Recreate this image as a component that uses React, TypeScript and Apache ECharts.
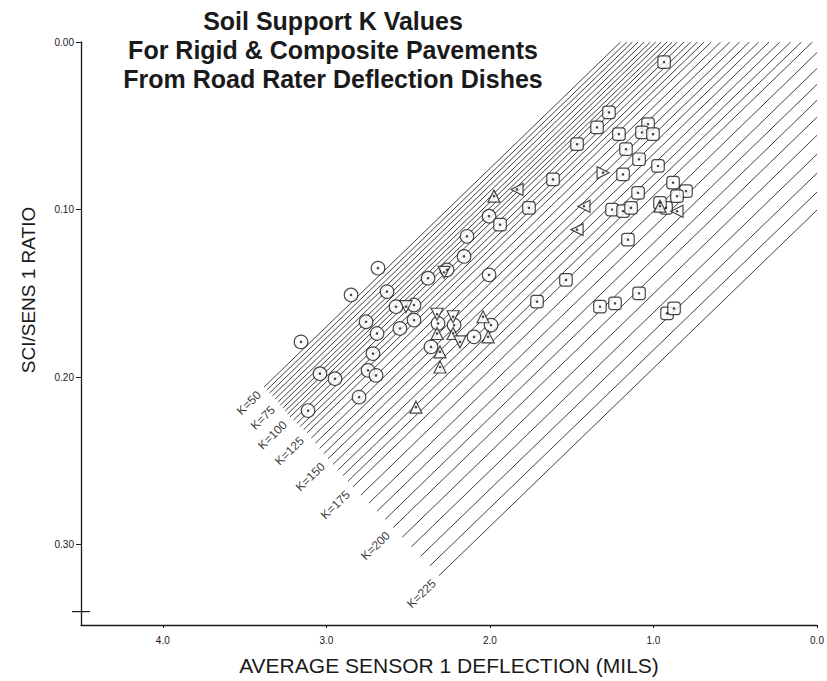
import { useEffect, useRef } from "react";
import * as echarts from "echarts";

// K-value lines (deflection in mils, SCI/SENS1 ratio)
const kValues = [50, 55, 60, 65, 70, 75, 80, 85, 90, 95, 100, 105, 110, 115, 120, 125, 130, 135, 140, 145, 150, 155, 160, 165, 170, 175, 180, 185, 190, 195, 200, 205, 210, 215, 220, 225];
const kStartDefl = [3.381, 3.364, 3.347, 3.33, 3.313, 3.295, 3.281, 3.266, 3.251, 3.237, 3.222, 3.201, 3.18, 3.16, 3.139, 3.118, 3.092, 3.067, 3.041, 3.015, 2.99, 2.959, 2.929, 2.898, 2.867, 2.837, 2.788, 2.739, 2.69, 2.641, 2.592, 2.536, 2.48, 2.424, 2.367, 2.311];
const kStartRatio = [0.206, 0.2077, 0.2095, 0.2113, 0.2131, 0.2149, 0.2167, 0.2185, 0.2202, 0.222, 0.2238, 0.2257, 0.2276, 0.2295, 0.2314, 0.2333, 0.2364, 0.2395, 0.2426, 0.2457, 0.2488, 0.2521, 0.2555, 0.2588, 0.2621, 0.2655, 0.2704, 0.2752, 0.2801, 0.285, 0.2899, 0.2956, 0.3013, 0.307, 0.3127, 0.3185];
const kEndDefl = [1.201, 1.163, 1.128, 1.094, 1.056, 1.018, 0.986, 0.952, 0.917, 0.885, 0.854, 0.813, 0.772, 0.731, 0.69, 0.646, 0.589, 0.533, 0.473, 0.413, 0.356, 0.293, 0.227, 0.161, 0.095, 0.028, 0, 0, 0, 0, 0, 0, 0, 0, 0, 0];
const kEndRatio = [0, 0, 0, 0, 0, 0, 0, 0, 0, 0, 0, 0, 0, 0, 0, 0, 0, 0, 0, 0, 0, 0, 0, 0, 0, 0, 0.0063, 0.0158, 0.0253, 0.0348, 0.0449, 0.0557, 0.067, 0.0783, 0.0896, 0.1003];
const kLabelled = [50, 75, 100, 125, 150, 175, 200, 225];

// Observations
const circleDefl = [3.155, 2.849, 2.684, 2.629, 2.757, 2.69, 2.574, 2.464, 2.464, 2.55, 2.378, 2.262, 2.158, 2.14, 2.005, 2.005, 2.715, 2.745, 2.696, 3.039, 2.947, 2.8, 3.112, 2.317, 2.219, 2.36, 2.097, 1.993];
const circleRatio = [0.179, 0.151, 0.135, 0.149, 0.167, 0.174, 0.158, 0.157, 0.166, 0.171, 0.141, 0.136, 0.128, 0.116, 0.104, 0.139, 0.186, 0.196, 0.199, 0.198, 0.201, 0.212, 0.22, 0.168, 0.169, 0.182, 0.176, 0.169];

const squareDefl = [0.935, 1.272, 1.345, 1.467, 1.211, 1.033, 1.07, 1.003, 1.168, 1.088, 0.972, 1.186, 0.88, 0.801, 0.856, 1.094, 1.253, 1.186, 1.137, 0.923, 0.96, 1.156, 1.535, 1.712, 1.327, 1.235, 1.088, 0.917, 0.874, 1.614, 1.761, 1.938];
const squareRatio = [0.012, 0.042, 0.051, 0.061, 0.055, 0.049, 0.054, 0.055, 0.064, 0.07, 0.074, 0.079, 0.084, 0.089, 0.092, 0.09, 0.1, 0.101, 0.099, 0.099, 0.096, 0.118, 0.142, 0.155, 0.158, 0.156, 0.15, 0.162, 0.159, 0.082, 0.099, 0.109];

const triangleDefl = [1.975, 1.834, 2.28, 2.513, 2.323, 2.225, 2.323, 2.225, 2.183, 2.042, 2.011, 2.305, 2.305, 2.452, 1.308, 1.425, 1.467, 0.96, 0.856];
const triangleRatio = [0.092, 0.088, 0.1375, 0.158, 0.1625, 0.164, 0.174, 0.174, 0.179, 0.164, 0.176, 0.185, 0.194, 0.218, 0.078, 0.098, 0.112, 0.098, 0.101];
const triangleTurn = [0, 90, 180, 180, 180, 180, 0, 0, 180, 0, 0, 0, 0, 0, -90, 90, 90, 0, 90];

const titleLines = ["Soil Support K Values", "For Rigid & Composite Pavements", "From Road Rater Deflection Dishes"];
const xAxisTitle = "AVERAGE SENSOR 1 DEFLECTION (MILS)";
const yAxisTitle = "SCI/SENS 1 RATIO";
const extraTickRatio = 0.34;

const INK = "#1a1a1a";
const SANS = "'Liberation Sans', Arial, sans-serif";

export default function App() {
  const ref = useRef<HTMLDivElement>(null);
  useEffect(() => {
    const chart = echarts.init(ref.current!, null, { renderer: "svg" });
    const lineData = kValues.map((k, i) => ({
      name: "K=" + k,
      coords: [
        [kStartDefl[i], kStartRatio[i]],
        [kEndDefl[i], kEndRatio[i]],
      ],
    }));
    const labelData = kLabelled.map((k) => {
      const i = kValues.indexOf(k);
      return { value: [kStartDefl[i], kStartRatio[i]], name: "K=" + k };
    });
    const circles = circleDefl.map((d, i) => [d, circleRatio[i]]);
    const squares = squareDefl.map((d, i) => [d, squareRatio[i]]);
    const triangles = triangleDefl.map((d, i) => ({ value: [d, triangleRatio[i]], symbolRotate: triangleTurn[i] }));
    const dots = [...circles, ...squares, ...triangleDefl.map((d, i) => [d, triangleRatio[i]])];

    const markerStyle = { color: "#ffffff", borderColor: INK, borderWidth: 1.2 };

    chart.setOption({
      animation: false,
      backgroundColor: "#ffffff",
      grid: { left: 81, right: 10, top: 42, bottom: 54.4, containLabel: false },
      xAxis: {
        type: "value",
        inverse: true,
        min: 0,
        max: 4.5,
        interval: 1,
        name: xAxisTitle,
        nameLocation: "middle",
        nameGap: 30,
        nameTextStyle: { fontFamily: SANS, fontSize: 21, color: INK },
        axisLine: { onZero: false, lineStyle: { color: INK, width: 1.3 } },
        axisTick: { show: true, length: 3, lineStyle: { color: INK } },
        axisLabel: {
          fontFamily: SANS,
          fontSize: 10,
          color: INK,
          margin: 10,
          showMaxLabel: false,
          formatter: (v: number) => v.toFixed(1),
        },
        splitLine: { show: false },
      },
      yAxis: {
        type: "value",
        inverse: true,
        min: 0,
        max: 0.348,
        interval: 0.1,
        axisLine: { onZero: false, lineStyle: { color: INK, width: 1.3 } },
        axisTick: { show: true, length: 5, lineStyle: { color: INK } },
        axisLabel: {
          fontFamily: SANS,
          fontSize: 10,
          color: INK,
          margin: 7,
          showMaxLabel: false,
          formatter: (v: number) => v.toFixed(2),
        },
        splitLine: { show: false },
      },
      series: [
        {
          type: "lines",
          coordinateSystem: "cartesian2d",
          polyline: false,
          silent: true,
          lineStyle: { color: "#2a2a2a", width: 0.9, opacity: 1 },
          data: lineData,
          z: 1,
        },
        {
          type: "scatter",
          symbolSize: 0,
          silent: true,
          itemStyle: { color: "#000000" },
          data: labelData,
          label: {
            show: true,
            formatter: (p: any) => p.name,
            position: [-5, 6],
            align: "right",
            verticalAlign: "middle",
            rotate: 44,
            fontFamily: SANS,
            fontSize: 12,
            color: "#000000",
            textBorderWidth: 0,
            textBorderColor: "transparent",
          },
          z: 2,
        },
        {
          name: "circles",
          type: "scatter",
          symbol: "circle",
          symbolSize: 13.5,
          itemStyle: markerStyle,
          data: circles,
          z: 3,
        },
        {
          name: "squares",
          type: "scatter",
          symbol: "roundRect",
          symbolSize: 12.5,
          itemStyle: markerStyle,
          data: squares,
          z: 3,
        },
        {
          name: "triangles",
          type: "scatter",
          symbol: "triangle",
          symbolSize: 12,
          itemStyle: markerStyle,
          data: triangles,
          z: 3,
        },
        {
          name: "dots",
          type: "scatter",
          symbol: "circle",
          symbolSize: 2.6,
          itemStyle: { color: INK },
          data: dots,
          z: 4,
        },
      ],
      graphic: [
        {
          id: "title",
          type: "text",
          x: 333,
          y: 6,
          style: {
            text: titleLines.join("\n"),
            font: "bold 25px 'Liberation Sans', Arial, sans-serif",
            fill: INK,
            textAlign: "center",
            lineHeight: 29,
          },
        },
        {
          id: "ytitle",
          type: "text",
          x: 28,
          y: 290,
          rotation: Math.PI / 2,
          style: {
            text: yAxisTitle,
            font: "19px 'Liberation Sans', Arial, sans-serif",
            fill: INK,
            textAlign: "center",
            textVerticalAlign: "middle",
          },
        },
      ],
    });

    const p = chart.convertToPixel({ gridIndex: 0 }, [4.5, extraTickRatio]) as number[];
    chart.setOption({
      graphic: [
        {
          id: "plus",
          type: "line",
          shape: { x1: p[0] - 9, y1: p[1], x2: p[0] + 9, y2: p[1] },
          style: { stroke: INK, lineWidth: 1.2 },
        },
      ],
    });

    return () => chart.dispose();
  }, []);
  return (
    <div
      ref={ref}
      style={{ position: "fixed", left: 0, top: 0, width: 827, height: 681, background: "#ffffff" }}
    />
  );
}
